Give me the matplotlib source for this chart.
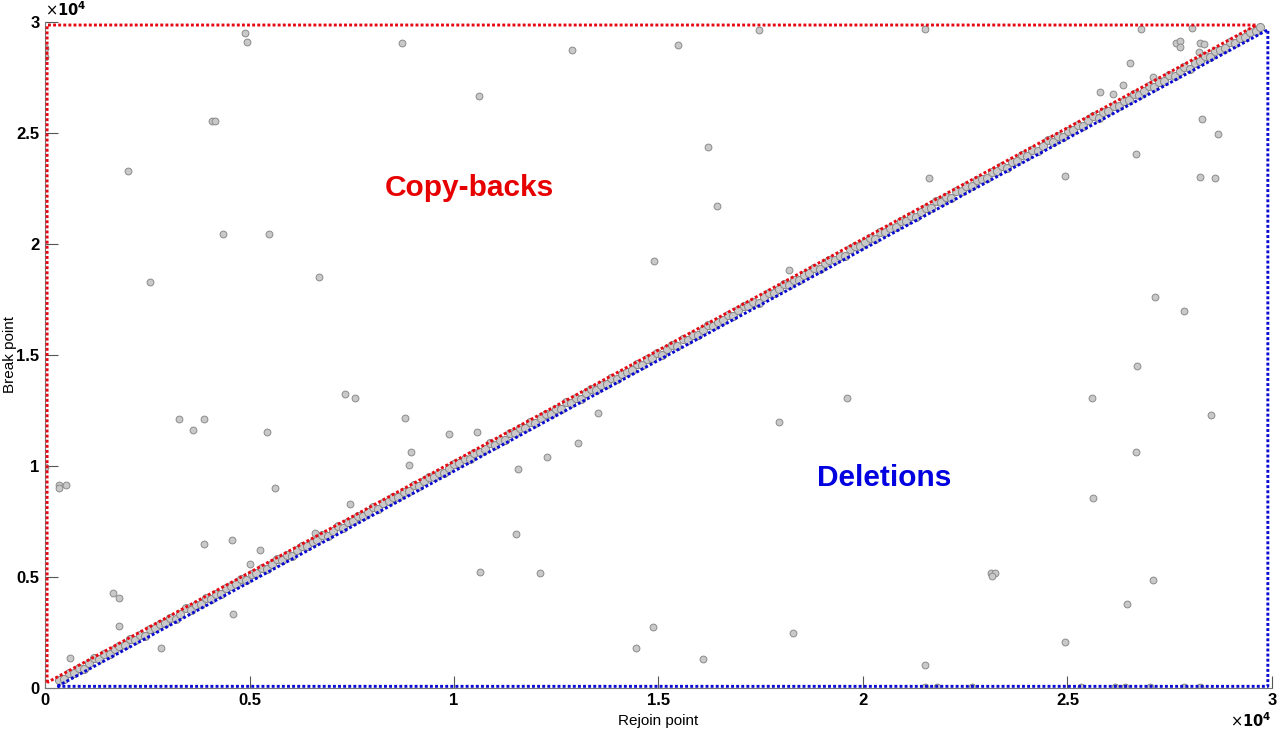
import matplotlib.pyplot as plt

plt.rcParams['font.family'] = ['Liberation Sans', 'DejaVu Sans']

# points along the diagonal (rejoin ~ break)
diag_x = [340, 460, 590, 700, 830, 960, 1080, 1200, 1330, 1450,
          1580, 1700, 1820, 1950, 2070, 2200, 2320, 2440, 2570, 2690,
          2820, 2940, 3060, 3190, 3310, 3440, 3560, 3680, 3810, 3930,
          4060, 4180, 4300, 4430, 4550, 4680, 4800, 4920, 5050, 5170,
          5300, 5420, 5540, 5670, 5790, 5920, 6040, 6160, 6290, 6410,
          6540, 6660, 6780, 6910, 7030, 7160, 7280, 7400, 7530, 7650,
          7780, 7900, 8020, 8150, 8270, 8400, 8520, 8640, 8770, 8890,
          9020, 9140, 9260, 9390, 9510, 9640, 9760, 9880, 10010, 10130,
          10260, 10380, 10500, 10630, 10750, 10880, 11000, 11120, 11250, 11370,
          11500, 11620, 11740, 11870, 11990, 12120, 12240, 12360, 12490, 12610,
          12740, 12860, 12980, 13110, 13230, 13360, 13480, 13600, 13730, 13850,
          13980, 14100, 14220, 14350, 14470, 14600, 14720, 14840, 14970, 15090,
          15220, 15340, 15460, 15590, 15710, 15840, 15960, 16080, 16210, 16330,
          16460, 16580, 16700, 16830, 16950, 17080, 17200, 17320, 17450, 17570,
          17700, 17820, 17940, 18070, 18190, 18320, 18440, 18560, 18690, 18810,
          18940, 19060, 19180, 19310, 19430, 19560, 19680, 19800, 19930, 20050,
          20180, 20300, 20420, 20550, 20670, 20800, 20920, 21040, 21170, 21290,
          21420, 21540, 21660, 21790, 21910, 22040, 22160, 22280, 22410, 22530,
          22660, 22780, 22900, 23030, 23150, 23280, 23400, 23520, 23650, 23770,
          23900, 24020, 24140, 24270, 24390, 24520, 24640, 24760, 24890, 25010,
          25140, 25260, 25380, 25510, 25630, 25760, 25880, 26000, 26130, 26250,
          26380, 26500, 26620, 26750, 26870, 27000, 27120, 27240, 27370, 27490,
          27620, 27740, 27860, 27990, 28110, 28240, 28360, 28480, 28610, 28730,
          28860, 28980, 29100, 29230, 29350, 29470, 29600, 29700]
diag_y = [360, 400, 680, 670, 880, 860, 1090, 1320, 1290, 1520,
          1500, 1730, 1880, 1930, 2180, 2130, 2360, 2330, 2650, 2690,
          2870, 2900, 3160, 3100, 3330, 3570, 3510, 3740, 3790, 4020,
          3990, 4220, 4200, 4510, 4560, 4650, 4910, 4860, 5100, 5160,
          5390, 5340, 5570, 5790, 5750, 5980, 5930, 6180, 6370, 6360,
          6580, 6640, 6880, 6840, 7040, 7290, 7190, 7450, 7500, 7720,
          7720, 7920, 8130, 8050, 8310, 8390, 8600, 8590, 8830, 8860,
          9120, 9070, 9290, 9510, 9470, 9690, 9670, 9890, 10080, 10110,
          10320, 10280, 10590, 10600, 10770, 11010, 10940, 11160, 11170, 11470,
          11490, 11690, 11690, 11980, 11900, 12150, 12320, 12320, 12540, 12540,
          12860, 12840, 13040, 13010, 13270, 13450, 13420, 13620, 13700, 13960,
          13900, 14150, 14230, 14310, 14600, 14530, 14790, 14830, 15060, 14990,
          15250, 15420, 15410, 15690, 15680, 15900, 15870, 16120, 16330, 16270,
          16480, 16540, 16790, 16750, 17000, 17190, 17180, 17390, 17350, 17600,
          17780, 17760, 17950, 18200, 18160, 18380, 18350, 18600, 18670, 18910,
          18870, 19110, 19270, 19270, 19450, 19460, 19750, 19910, 19880, 20080,
          20240, 20220, 20540, 20530, 20710, 20740, 21020, 21010, 21250, 21200,
          21430, 21610, 21610, 21920, 21900, 22090, 22060, 22370, 22370, 22590,
          22590, 22890, 22930, 22970, 23230, 23260, 23520, 23430, 23690, 23740,
          23990, 23970, 24200, 24170, 24410, 24650, 24600, 24830, 24810, 25060,
          25120, 25360, 25320, 25550, 25740, 25670, 25910, 25970, 26210, 26180,
          26440, 26490, 26740, 26700, 26890, 27090, 27040, 27290, 27330, 27600,
          27560, 27770, 27940, 27890, 28150, 28220, 28460, 28410, 28670, 28740,
          28820, 29070, 29040, 29280, 29330, 29540, 29590, 29740]

# scattered points away from the diagonal
out_x = [0, 0, 4880, 4930, 8730, 4090, 4150, 2020, 4350, 5470,
         12890, 15480, 17450, 10620, 16220, 16430, 14900,
         21510, 26790, 28050, 27660, 27760, 27740, 28250, 28330,
         28220, 26540, 27080, 26370, 25800, 26110, 28300, 28690,
         26670, 24950, 28250, 28600, 21610,
         2560, 6690, 7340, 7580, 3270, 3610, 3880, 5430, 8790, 8960,
         8890, 5620, 7460, 0, 330, 330, 500,
         3880, 4560, 5250, 5000, 6590, 1670, 1820, 1820, 4590, 2830, 620,
         11510, 10630, 12100, 14870, 14450, 16090, 18290,
         26670, 25630, 23140, 23220, 23160, 27090, 26450, 24930, 21510,
         21510, 21800, 22670, 25320, 26170, 26410, 27030, 27840, 28250,
         9870, 11570, 12280, 13020, 13530, 10550, 17950, 19600, 18200,
         26690, 25600, 27840, 27150, 28500]
out_y = [28800, 28430, 29500, 29090, 29030, 25540, 25540, 23260, 20420, 20420,
         28730, 28960, 29630, 26640, 24360, 21700, 19200,
         29690, 29690, 29730, 29040, 29130, 28860, 29050, 28980,
         28650, 28130, 27520, 27150, 26820, 26760, 25600, 24930,
         24030, 23050, 23000, 22950, 22950,
         18270, 18500, 13240, 13050, 12090, 11610, 12090, 11530, 12160, 10600,
         10020, 8980, 8270, 9940, 9130, 9000, 9130,
         6460, 6650, 6190, 5590, 6980, 4280, 4050, 2790, 3320, 1800, 1320,
         6940, 5230, 5150, 2730, 1800, 1280, 2480,
         10620, 8530, 5150, 5180, 5030, 4840, 3760, 2070, 1020,
         50, 50, 50, 50, 50, 50, 50, 50, 50,
         11430, 9830, 10380, 11000, 12370, 11500, 11970, 13050, 18800,
         14500, 13050, 16970, 17600, 12280]

# region outlines
copyback_x = [50, 50, 29620, 50]
copyback_y = [230, 29850, 29850, 230]
deletion_x = [300, 29900, 29900, 300]
deletion_y = [60, 60, 29640, 60]

tick_vals = [0, 5000, 10000, 15000, 20000, 25000, 30000]
tick_labels = ['0', '0.5', '1', '1.5', '2', '2.5', '3']

fig = plt.figure(figsize=(12.8, 7.38), dpi=100)
ax = fig.add_axes([0.0352, 0.0682, 0.9585, 0.9024])

ax.scatter(diag_x, diag_y, s=34, facecolor='#c9c9c9', edgecolor='#8a8a8a', linewidth=0.7, zorder=2)
ax.scatter(out_x, out_y, s=24, facecolor='#c9c9c9', edgecolor='#8a8a8a', linewidth=0.7, zorder=2)

dots = (0, (1, 0.75))
ax.plot(copyback_x, copyback_y, color='#e60a14', linestyle=dots, linewidth=2.1, zorder=3)
ax.plot(deletion_x, deletion_y, color='#0a0ad2', linestyle=dots, linewidth=2.1, zorder=3)

ax.text(10380, 22500, 'Copy-backs', color='#e60000', fontsize=21.5, fontweight='bold',
        ha='center', va='center')
ax.text(20510, 9450, 'Deletions', color='#0000e0', fontsize=21.5, fontweight='bold',
        ha='center', va='center')

ax.set_xlim(0, 30000)
ax.set_ylim(0, 30000)
ax.set_xticks(tick_vals)
ax.set_xticklabels(tick_labels)
ax.set_yticks(tick_vals)
ax.set_yticklabels(tick_labels)
for lab in ax.get_xticklabels() + ax.get_yticklabels():
    lab.set_fontweight('bold')
ax.tick_params(direction='in', length=9, width=0.8, color='#555555', labelsize=12, pad=4)

for side in ['top', 'right']:
    ax.spines[side].set_visible(False)
for side in ['left', 'bottom']:
    ax.spines[side].set_color('#777777')
    ax.spines[side].set_linewidth(0.8)

ax.set_xlabel('Rejoin point', fontsize=11, labelpad=4)
ax.set_ylabel('Break point', fontsize=11)
ax.yaxis.set_label_coords(-0.023, 0.5)

ax.text(0.0, 1.004, r'$\times\mathbf{10^4}$', transform=ax.transAxes, fontsize=10.5,
        ha='left', va='bottom')
ax.text(1.0, -0.036, r'$\times\mathbf{10^4}$', transform=ax.transAxes, fontsize=10.5,
        ha='right', va='top')

fig.savefig('out.png', dpi=100)
